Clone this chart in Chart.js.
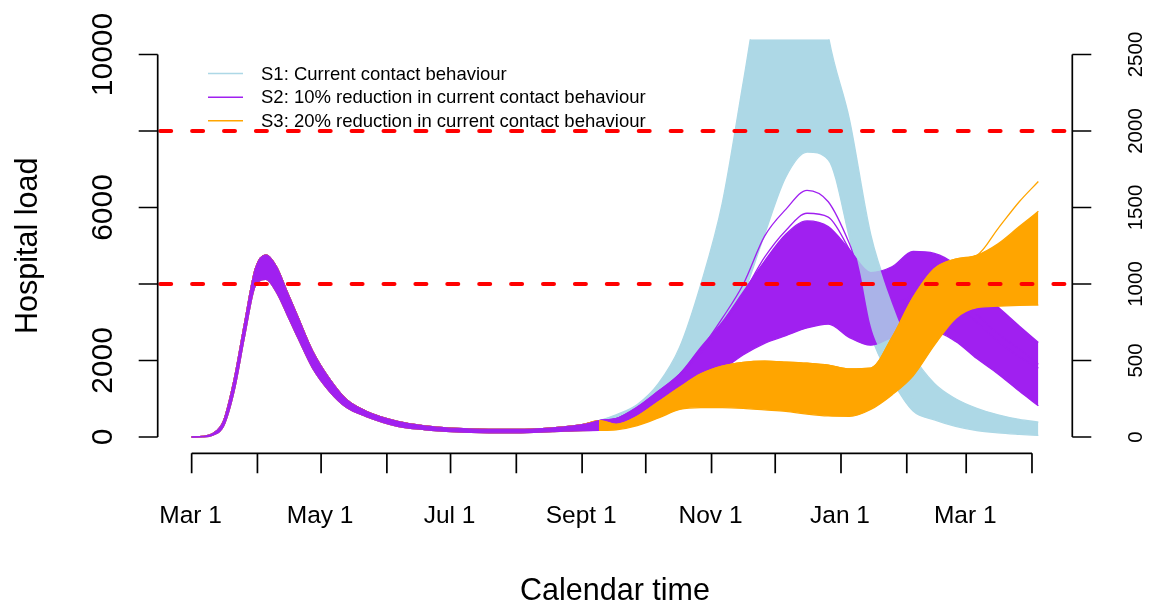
<!DOCTYPE html>
<html>
<head>
<meta charset="utf-8">
<title>Hospital load scenarios</title>
<script src="https://cdn.jsdelivr.net/npm/chart.js@4/dist/chart.umd.min.js"></script>
<style>
  html, body { margin: 0; padding: 0; background: #fff; }
  #wrap { width: 1152px; height: 605px; }
</style>
</head>
<body>
<div id="wrap"><canvas id="loadChart" width="1152" height="605"></canvas></div>
<script>
'use strict';

/* --- Data (days since Mar 1 2020) --- */
const earlyDays = [0, 5, 10, 15, 20, 25, 30, 35, 40, 45, 50, 57, 65, 73, 82, 97, 110, 122, 140, 153, 170, 184, 192];
const lateDays  = [200, 210, 220, 230, 240, 250, 260, 270, 280, 290, 300, 310, 320, 330, 340, 350, 360, 370, 380, 390, 399];

// first wave, shared by all scenarios
const commonHigh = [0, 15, 90, 420, 1500, 3000, 4400, 4760, 4450, 3800, 3150, 2250, 1520, 980, 680, 410, 290, 230, 200, 200, 240, 320, 430];
const commonLow  = [0, 5, 50, 280, 1200, 2650, 3950, 4120, 3780, 3200, 2600, 1800, 1190, 770, 540, 280, 190, 140, 110, 110, 140, 170, 175];

// S1: current contact behaviour
const s1High = [580, 850, 1400, 2350, 4000, 6100, 9300, 12500, 14000, 14500, 10500, 8300, 5300, 3550, 2150, 1400, 1000, 750, 580, 460, 390];
const s1Low  = [250, 380, 600, 950, 1500, 2400, 3700, 5300, 6800, 7450, 7250, 5200, 2700, 1500, 680, 450, 280, 170, 110, 70, 40];
// S1 falling band where it crosses S2 in January
const s1FallDays = [308, 310, 315, 320, 325, 330, 340];
const s1FallHigh = [8700, 8250, 6700, 5250, 4300, 3500, 2100];
const s1FallLow  = [6000, 5500, 4300, 2900, 2200, 1700, 1000];

// S2: 10% reduction
const s2High  = [480, 780, 1200, 1650, 2350, 3000, 3800, 4600, 5300, 5650, 5500, 4900, 4300, 4450, 4850, 4800, 4500, 3900, 3400, 2900, 2470];
const s2Low   = [280, 430, 650, 950, 1350, 1750, 2150, 2450, 2650, 2850, 2950, 2600, 2400, 2600, 2750, 2750, 2500, 2050, 1650, 1200, 815];
const s2Peak1 = [480, 780, 1200, 1650, 2300, 3100, 4000, 5250, 5950, 6450, 6150, 5050, 3500, 3300, 3600, 3700, 3500, 3000, 2500, 2100, 1800];
const s2Peak2 = [480, 760, 1150, 1600, 2200, 2900, 3750, 4700, 5400, 5850, 5750, 4900, 3900, 3500, 3700, 3900, 3700, 3200, 2700, 2300, 1900];

// S3: 20% reduction
const s3High = [330, 540, 920, 1300, 1650, 1850, 1950, 1980, 1960, 1930, 1880, 1780, 1800, 2600, 3650, 4400, 4650, 4750, 5050, 5500, 5900];
const s3Low  = [190, 300, 500, 720, 770, 770, 750, 710, 670, 600, 550, 540, 720, 1100, 1600, 2400, 3100, 3380, 3420, 3440, 3450];
const s3Top  = [330, 540, 920, 1300, 1650, 1850, 1950, 1980, 1960, 1930, 1880, 1780, 1800, 2600, 3650, 4400, 4650, 4750, 5450, 6150, 6680];

const monthDays   = [0, 31, 61, 92, 122, 153, 184, 214, 245, 275, 306, 337, 365, 396];
const monthLabels = ['Mar 1', '', 'May 1', '', 'Jul 1', '', 'Sept 1', '', 'Nov 1', '', 'Jan 1', '', 'Mar 1', ''];
const leftTicks   = [0, 2000, 4000, 6000, 8000, 10000];
const leftLabels  = ['0', '2000', '', '6000', '', '10000'];
const rightTicks  = [0, 500, 1000, 1500, 2000, 2500];
const thresholds  = [4000, 8000];
const legendLabels = [
  'S1: Current contact behaviour',
  'S2: 10% reduction in current contact behaviour',
  'S3: 20% reduction in current contact behaviour'
];

const COL_S1 = '#ADD8E6';
const COL_S1_SOFT = 'rgba(173,216,230,0.8)';
const COL_S2 = '#A020F0';
const COL_S3 = '#FFA500';
const FONT = '"Liberation Sans", Arial, Helvetica, sans-serif';

function pts(days, vals) {
  return days.map((d, i) => ({ x: d, y: vals[i] }));
}
function full(late, early) {
  return pts(earlyDays.concat(lateDays), (early || commonHigh).concat(late));
}

function band(color, data, fill, width) {
  return {
    data, fill: fill || false,
    borderColor: color, backgroundColor: color,
    borderWidth: width === undefined ? 1.3 : width, pointRadius: 0,
    cubicInterpolationMode: 'monotone'
  };
}

// first dataset is drawn last (on top)
const datasets = [
  band(COL_S2, pts(earlyDays, commonHigh), '+1'),   // S2 over the shared first wave
  band(COL_S2, pts(earlyDays, commonLow)),
  band(COL_S3, full(s3Top)),
  band(COL_S3, full(s3High), '+1'),
  band(COL_S3, full(s3Low, commonLow)),
  band(COL_S1_SOFT, pts(s1FallDays, s1FallHigh), '+1', 0),
  band('rgba(0,0,0,0)', pts(s1FallDays, s1FallLow), false, 0),
  band(COL_S2, full(s2Peak1)),
  band(COL_S2, full(s2Peak2)),
  band(COL_S2, full(s2High), '+1'),
  band(COL_S2, full(s2Low, commonLow)),
  band(COL_S1, full(s1High), '+1'),
  band(COL_S1, full(s1Low, commonLow))
];

/* --- R-style axes, threshold lines and legend --- */
const baseGraphics = {
  id: 'baseGraphics',
  afterDatasetsDraw(chart) {
    const { ctx, chartArea: a, scales: { x, y, y2 } } = chart;
    ctx.save();

    // red dashed thresholds
    ctx.strokeStyle = '#FF0000';
    ctx.lineWidth = 4;
    ctx.lineCap = 'round';
    ctx.setLineDash([11, 20.9]);
    thresholds.forEach(v => {
      const py = y.getPixelForValue(v);
      ctx.beginPath(); ctx.moveTo(a.left + 2.5, py); ctx.lineTo(a.right, py); ctx.stroke();
    });
    ctx.setLineDash([]);
    ctx.lineCap = 'butt';

    ctx.strokeStyle = '#000';
    ctx.fillStyle = '#000';
    ctx.lineWidth = 1.7;

    // bottom axis
    const by = a.bottom + 1;
    ctx.beginPath();
    ctx.moveTo(x.getPixelForValue(monthDays[0]), by);
    ctx.lineTo(x.getPixelForValue(monthDays[monthDays.length - 1]), by);
    monthDays.forEach(d => {
      const px = x.getPixelForValue(d);
      ctx.moveTo(px, by); ctx.lineTo(px, by + 20);
    });
    ctx.stroke();
    ctx.font = '24.5px ' + FONT;
    ctx.textAlign = 'center';
    ctx.textBaseline = 'alphabetic';
    monthDays.forEach((d, i) => {
      if (monthLabels[i]) ctx.fillText(monthLabels[i], x.getPixelForValue(d) - 1, by + 70);
    });

    // left axis
    ctx.beginPath();
    ctx.moveTo(a.left, y.getPixelForValue(leftTicks[0]));
    ctx.lineTo(a.left, y.getPixelForValue(leftTicks[leftTicks.length - 1]));
    leftTicks.forEach(v => {
      const py = y.getPixelForValue(v);
      ctx.moveTo(a.left, py); ctx.lineTo(a.left - 19, py);
    });
    ctx.stroke();
    ctx.font = '30px ' + FONT;
    leftTicks.forEach((v, i) => {
      if (!leftLabels[i]) return;
      ctx.save();
      ctx.translate(a.left - 46, y.getPixelForValue(v));
      ctx.rotate(-Math.PI / 2);
      ctx.fillText(leftLabels[i], 0, 0);
      ctx.restore();
    });

    // right axis
    ctx.beginPath();
    ctx.moveTo(a.right, y2.getPixelForValue(rightTicks[0]));
    ctx.lineTo(a.right, y2.getPixelForValue(rightTicks[rightTicks.length - 1]));
    rightTicks.forEach(v => {
      const py = y2.getPixelForValue(v);
      ctx.moveTo(a.right, py); ctx.lineTo(a.right + 19, py);
    });
    ctx.stroke();
    ctx.font = '20.5px ' + FONT;
    rightTicks.forEach(v => {
      ctx.save();
      ctx.translate(a.right + 69.5, y2.getPixelForValue(v));
      ctx.rotate(-Math.PI / 2);
      ctx.fillText(String(v), 0, 0);
      ctx.restore();
    });

    // axis titles
    ctx.font = '30.5px ' + FONT;
    ctx.fillText('Calendar time', (a.left + a.right) / 2, 600);
    ctx.save();
    ctx.translate(37, (a.top + a.bottom) / 2);
    ctx.rotate(-Math.PI / 2);
    ctx.fillText('Hospital load', 0, 0);
    ctx.restore();

    // legend
    const cols = [COL_S1, COL_S2, COL_S3];
    const rowsY = [73.5, 97.2, 120.8];
    ctx.font = '18.5px ' + FONT;
    ctx.textAlign = 'left';
    ctx.textBaseline = 'middle';
    ctx.lineWidth = 1.6;
    legendLabels.forEach((t, i) => {
      ctx.strokeStyle = cols[i];
      ctx.beginPath(); ctx.moveTo(208, rowsY[i]); ctx.lineTo(243, rowsY[i]); ctx.stroke();
      ctx.fillText(t, 261, rowsY[i] + 1);
    });

    ctx.restore();
  }
};

new Chart(document.getElementById('loadChart'), {
  type: 'line',
  data: { datasets },
  options: {
    responsive: false,
    animation: false,
    layout: { padding: { left: 157.7, right: 79.7, top: 39.2, bottom: 152.7 } },
    plugins: { legend: { display: false }, tooltip: { enabled: false } },
    scales: {
      x:  { type: 'linear', min: -16, max: 415, display: false },
      y:  { type: 'linear', min: -400, max: 10400, display: false },
      y2: { type: 'linear', min: -100, max: 2600, display: false }
    }
  },
  plugins: [baseGraphics]
});
</script>
</body>
</html>
